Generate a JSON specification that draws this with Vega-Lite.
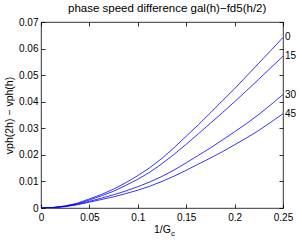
{
  "$schema": "https://vega.github.io/schema/vega-lite/v6.json",
  "width": 242,
  "height": 186,
  "autosize": {"type": "none"},
  "padding": {"left": 41, "top": 22, "right": 19, "bottom": 32},
  "title": {"text": "phase speed difference gal(h)−fd5(h/2)", "fontSize": 11.5, "fontWeight": "normal", "font": "Liberation Sans", "offset": 3, "dx": 27, "color": "#000", "frame": "group", "anchor": "start"},
  "config": {
    "view": {"stroke": "#000", "strokeWidth": 0.8},
    "axis": {"labelFont": "Liberation Sans", "labelFontSize": 10, "labelColor": "#000", "titleFont": "Liberation Sans", "titleFontSize": 10.5, "titleFontWeight": "normal", "titleColor": "#000", "grid": false, "domain": false, "tickColor": "#000", "tickWidth": 0.8, "labelFlush": false, "labelOverlap": false}
  },
  "data": {"values": [
    {"x": 0, "y": 0, "s": "0"}, {"x": 0.0125, "y": 0.0002, "s": "0"}, {"x": 0.025, "y": 0.0008, "s": "0"}, {"x": 0.0375, "y": 0.0018, "s": "0"}, {"x": 0.05, "y": 0.0034, "s": "0"}, {"x": 0.0625, "y": 0.0051, "s": "0"}, {"x": 0.075, "y": 0.0071, "s": "0"}, {"x": 0.0875, "y": 0.0095, "s": "0"}, {"x": 0.1, "y": 0.0122, "s": "0"}, {"x": 0.1125, "y": 0.0152, "s": "0"}, {"x": 0.125, "y": 0.0187, "s": "0"}, {"x": 0.1375, "y": 0.0227, "s": "0"}, {"x": 0.15, "y": 0.027, "s": "0"}, {"x": 0.1625, "y": 0.0313, "s": "0"}, {"x": 0.175, "y": 0.0358, "s": "0"}, {"x": 0.1875, "y": 0.0404, "s": "0"}, {"x": 0.2, "y": 0.0449, "s": "0"}, {"x": 0.2125, "y": 0.0497, "s": "0"}, {"x": 0.225, "y": 0.0545, "s": "0"}, {"x": 0.2375, "y": 0.0593, "s": "0"}, {"x": 0.25, "y": 0.0642, "s": "0"},
    {"x": 0, "y": 0, "s": "15"}, {"x": 0.0125, "y": 0.0002, "s": "15"}, {"x": 0.025, "y": 0.0007, "s": "15"}, {"x": 0.0375, "y": 0.0016, "s": "15"}, {"x": 0.05, "y": 0.003, "s": "15"}, {"x": 0.0625, "y": 0.0046, "s": "15"}, {"x": 0.075, "y": 0.0063, "s": "15"}, {"x": 0.0875, "y": 0.0085, "s": "15"}, {"x": 0.1, "y": 0.0108, "s": "15"}, {"x": 0.1125, "y": 0.0135, "s": "15"}, {"x": 0.125, "y": 0.0167, "s": "15"}, {"x": 0.1375, "y": 0.0202, "s": "15"}, {"x": 0.15, "y": 0.024, "s": "15"}, {"x": 0.1625, "y": 0.0279, "s": "15"}, {"x": 0.175, "y": 0.0319, "s": "15"}, {"x": 0.1875, "y": 0.0359, "s": "15"}, {"x": 0.2, "y": 0.04, "s": "15"}, {"x": 0.2125, "y": 0.0442, "s": "15"}, {"x": 0.225, "y": 0.0485, "s": "15"}, {"x": 0.2375, "y": 0.0528, "s": "15"}, {"x": 0.25, "y": 0.0571, "s": "15"},
    {"x": 0, "y": 0, "s": "30"}, {"x": 0.0125, "y": 0.0001, "s": "30"}, {"x": 0.025, "y": 0.0006, "s": "30"}, {"x": 0.0375, "y": 0.0014, "s": "30"}, {"x": 0.05, "y": 0.0025, "s": "30"}, {"x": 0.0625, "y": 0.0037, "s": "30"}, {"x": 0.075, "y": 0.005, "s": "30"}, {"x": 0.0875, "y": 0.0064, "s": "30"}, {"x": 0.1, "y": 0.008, "s": "30"}, {"x": 0.1125, "y": 0.0098, "s": "30"}, {"x": 0.125, "y": 0.0119, "s": "30"}, {"x": 0.1375, "y": 0.0143, "s": "30"}, {"x": 0.15, "y": 0.017, "s": "30"}, {"x": 0.1625, "y": 0.0198, "s": "30"}, {"x": 0.175, "y": 0.0226, "s": "30"}, {"x": 0.1875, "y": 0.0256, "s": "30"}, {"x": 0.2, "y": 0.0287, "s": "30"}, {"x": 0.2125, "y": 0.0318, "s": "30"}, {"x": 0.225, "y": 0.0352, "s": "30"}, {"x": 0.2375, "y": 0.0389, "s": "30"}, {"x": 0.25, "y": 0.0427, "s": "30"},
    {"x": 0, "y": 0, "s": "45"}, {"x": 0.0125, "y": 0.0001, "s": "45"}, {"x": 0.025, "y": 0.0005, "s": "45"}, {"x": 0.0375, "y": 0.0012, "s": "45"}, {"x": 0.05, "y": 0.0022, "s": "45"}, {"x": 0.0625, "y": 0.0032, "s": "45"}, {"x": 0.075, "y": 0.0042, "s": "45"}, {"x": 0.0875, "y": 0.0054, "s": "45"}, {"x": 0.1, "y": 0.0067, "s": "45"}, {"x": 0.1125, "y": 0.0082, "s": "45"}, {"x": 0.125, "y": 0.01, "s": "45"}, {"x": 0.1375, "y": 0.012, "s": "45"}, {"x": 0.15, "y": 0.0142, "s": "45"}, {"x": 0.1625, "y": 0.0165, "s": "45"}, {"x": 0.175, "y": 0.0188, "s": "45"}, {"x": 0.1875, "y": 0.0212, "s": "45"}, {"x": 0.2, "y": 0.0238, "s": "45"}, {"x": 0.2125, "y": 0.0264, "s": "45"}, {"x": 0.225, "y": 0.0292, "s": "45"}, {"x": 0.2375, "y": 0.0323, "s": "45"}, {"x": 0.25, "y": 0.0355, "s": "45"}
  ]},
  "resolve": {"axis": {"x": "independent", "y": "independent"}},
  "layer": [
    {
      "mark": {"type": "line", "color": "#0000ff", "strokeWidth": 0.8, "clip": true},
      "encoding": {
        "x": {"field": "x", "type": "quantitative", "scale": {"domain": [0, 0.25], "nice": false, "zero": false},
              "axis": {"orient": "bottom", "values": [0, 0.05, 0.1, 0.15, 0.2, 0.25], "format": "~g", "tickSize": -4, "labelPadding": 8, "title": "1/G", "titlePadding": 2}},
        "y": {"field": "y", "type": "quantitative", "scale": {"domain": [0, 0.07], "nice": false, "zero": false},
              "axis": {"orient": "left", "values": [0, 0.01, 0.02, 0.03, 0.04, 0.05, 0.06, 0.07], "format": "~g", "tickSize": -4, "labelPadding": 7, "title": "vph(2h) − vph(h)", "titlePadding": 4}},
        "detail": {"field": "s", "type": "nominal"}
      }
    },
    {
      "transform": [{"filter": "datum.x == 0.25"}],
      "mark": {"type": "text", "align": "left", "baseline": "middle", "dx": 2, "font": "Liberation Sans", "fontSize": 10, "color": "#000"},
      "encoding": {
        "x": {"field": "x", "type": "quantitative", "scale": {"domain": [0, 0.25], "nice": false, "zero": false}, "axis": {"orient": "top", "values": [0, 0.05, 0.1, 0.15, 0.2, 0.25], "labels": false, "title": null, "tickSize": -4}},
        "y": {"field": "y", "type": "quantitative", "scale": {"domain": [0, 0.07], "nice": false, "zero": false}, "axis": {"orient": "right", "values": [0, 0.01, 0.02, 0.03, 0.04, 0.05, 0.06, 0.07], "labels": false, "title": null, "tickSize": -4}},
        "text": {"field": "s", "type": "nominal"}
      }
    },
    {
      "data": {"values": [{"t": "c"}]},
      "mark": {"type": "text", "align": "left", "baseline": "alphabetic", "dx": 9, "dy": 28, "font": "Liberation Sans", "fontSize": 8, "color": "#000"},
      "encoding": {
        "x": {"datum": 0.125, "type": "quantitative", "scale": {"domain": [0, 0.25], "nice": false, "zero": false}, "axis": null},
        "y": {"datum": 0, "type": "quantitative", "scale": {"domain": [0, 0.07], "nice": false, "zero": false}, "axis": null},
        "text": {"field": "t", "type": "nominal"}
      }
    }
  ]
}
